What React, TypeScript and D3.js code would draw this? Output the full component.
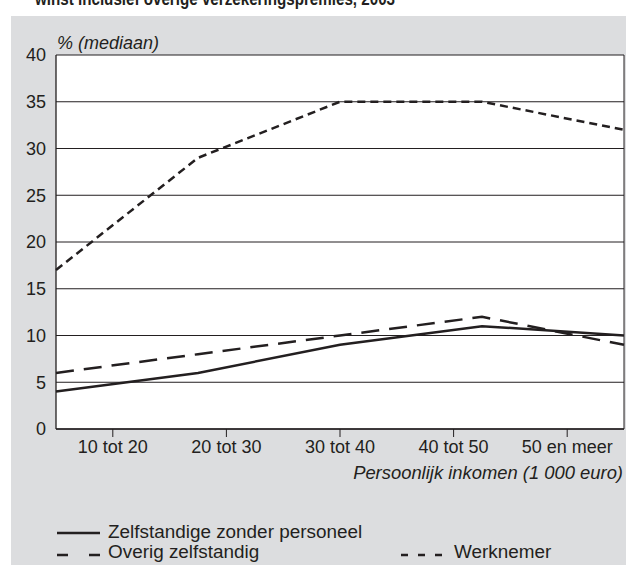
import React from "react";
import * as d3 from "d3";

const categories = ["10 tot 20", "20 tot 30", "30 tot 40", "40 tot 50", "50 en meer"];
const zelfstandigeZonderPersoneel = [4, 6, 9, 11, 10];
const overigZelfstandig = [6, 8, 10, 12, 9];
const werknemer = [17, 29, 35, 35, 32];
const yTicks = [0, 5, 10, 15, 20, 25, 30, 35, 40];

const W = 626;
const H = 565;
const FONT = "'Liberation Sans', Arial, Helvetica, sans-serif";
const INK = "#231f20";
const GRAY = "#dcdddf";

const plot = { left: 56, right: 624, top: 55, bottom: 429 };

export default function App() {
  const xBand = d3.scaleBand<string>().domain(categories).range([plot.left, plot.right]);
  const xPoint = d3.scalePoint<string>().domain(categories).range([plot.left, plot.right]);
  const y = d3.scaleLinear().domain([0, 40]).range([plot.bottom, plot.top]);

  const line = d3
    .line<number>()
    .x((_, i) => xPoint(categories[i]) as number)
    .y((d) => y(d));

  const series = [
    { name: "Zelfstandige zonder personeel", values: zelfstandigeZonderPersoneel, dash: "none" },
    { name: "Overig zelfstandig", values: overigZelfstandig, dash: "18 10" },
    { name: "Werknemer", values: werknemer, dash: "8 5" },
  ];

  return (
    <svg
      width={W}
      height={H}
      style={{ position: "absolute", left: 0, top: 0, display: "block" }}
      fontFamily={FONT}
    >
      <rect x={0} y={0} width={W} height={H} fill="#ffffff" />
      <text
        x={35}
        y={5}
        fontSize={18}
        fontWeight="bold"
        fill={INK}
        textLength={360}
        lengthAdjust="spacingAndGlyphs"
      >
        winst inclusief overige verzekeringspremies, 2003
      </text>
      <rect x={11} y={16} width={W - 11} height={H - 16} fill={GRAY} />

      <text x={57} y={49} fontSize={18} fontStyle="italic" fill={INK}>
        % (mediaan)
      </text>

      <rect
        x={plot.left}
        y={plot.top}
        width={plot.right - plot.left}
        height={plot.bottom - plot.top}
        fill="#ffffff"
      />
      {yTicks.map((t) => (
        <g key={t}>
          <line x1={plot.left} x2={plot.right} y1={y(t)} y2={y(t)} stroke={INK} strokeWidth={1} />
          <text
            x={46}
            y={y(t)}
            dy="0.36em"
            textAnchor="end"
            fontSize={18}
            fill={INK}
          >
            {t}
          </text>
        </g>
      ))}
      <line x1={plot.left} x2={plot.left} y1={plot.top} y2={plot.bottom} stroke={INK} strokeWidth={1.3} />
      <line x1={plot.right} x2={plot.right} y1={plot.top} y2={plot.bottom} stroke={INK} strokeWidth={1} />
      <line x1={plot.left} x2={plot.right} y1={plot.bottom} y2={plot.bottom} stroke={INK} strokeWidth={1.5} />

      {categories.map((c) => {
        const cx = (xBand(c) as number) + xBand.bandwidth() / 2;
        return (
          <g key={c}>
            <line x1={cx} x2={cx} y1={plot.bottom} y2={plot.bottom + 8} stroke={INK} strokeWidth={1} />
            <text x={cx} y={453} textAnchor="middle" fontSize={18} fill={INK}>
              {c}
            </text>
          </g>
        );
      })}
      <text x={623} y={479} textAnchor="end" fontSize={18.4} fontStyle="italic" fill={INK}>
        Persoonlijk inkomen (1 000 euro)
      </text>

      <g>
        {series.map((s) => (
          <path
            key={s.name}
            d={line(s.values) as string}
            fill="none"
            stroke={INK}
            strokeWidth={2.5}
            strokeDasharray={s.dash}
          />
        ))}
      </g>

      {/* legend */}
      <line x1={57} x2={100} y1={533} y2={533} stroke={INK} strokeWidth={2.5} />
      <text x={108} y={538} fontSize={18.9} fill={INK}>
        Zelfstandige zonder personeel
      </text>
      <line x1={57} x2={100} y1={555} y2={555} stroke={INK} strokeWidth={2.5} strokeDasharray="11 21" />
      <text x={108} y={558} fontSize={18.9} fill={INK}>
        Overig zelfstandig
      </text>
      <line x1={401} x2={442} y1={555} y2={555} stroke={INK} strokeWidth={2.5} strokeDasharray="7 10" />
      <text x={454} y={558} fontSize={18.9} fill={INK}>
        Werknemer
      </text>
    </svg>
  );
}
